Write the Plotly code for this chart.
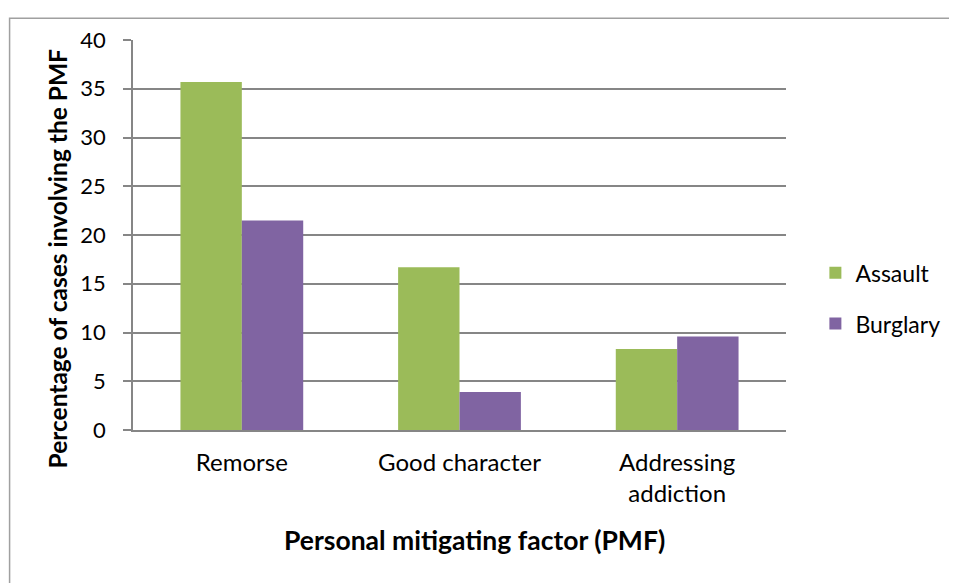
import plotly.graph_objects as go

categories = ["Remorse", "Good character", "Addressing<br>addiction"]
assault = [35.7, 16.7, 8.3]
burglary = [21.5, 3.9, 9.6]
y_ticks = [0, 5, 10, 15, 20, 25, 30, 35, 40]

FONT = "Lato, Open Sans, sans-serif"
GRID = "#868686"

fig = go.Figure()
fig.add_trace(go.Bar(x=categories, y=assault, name="Assault", legendgroup="a",
                     marker=dict(color="#9BBB59", line=dict(width=0))))
fig.add_trace(go.Bar(x=categories, y=burglary, name="Burglary", legendgroup="b",
                     marker=dict(color="#8064A2", line=dict(width=0))))

# page body has an 8px margin, so the figure is sized to fit inside it
fig.update_layout(
    width=949, height=575,
    margin=dict(l=125, r=167, t=32, b=153),
    paper_bgcolor="white", plot_bgcolor="white",
    barmode="group", bargap=0.436, bargroupgap=0,
    font=dict(family=FONT, size=23, color="#000000"),
    showlegend=True,
    legend=dict(x=1.045, y=0.338, xanchor="left", yanchor="middle",
                font=dict(size=23), itemwidth=30, tracegroupgap=18,
                bgcolor="rgba(0,0,0,0)"),
    xaxis=dict(
        showline=True, linecolor=GRID, linewidth=1.5,
        tickfont=dict(size=24), ticks="", showgrid=False,
        ticklabelstandoff=10,
    ),
    yaxis=dict(
        range=[0, 40], tickvals=y_ticks,
        showline=True, linecolor=GRID, linewidth=1.5,
        showgrid=True, gridcolor=GRID, gridwidth=1.5,
        ticks="outside", ticklen=8, tickcolor=GRID, tickwidth=1.5,
        tickfont=dict(size=22), ticklabelstandoff=13, zeroline=False,
    ),
    # axis titles as annotations: Excel centres them on the chart, not the plot
    annotations=[
        dict(text="<b>Personal mitigating factor (PMF)</b>", showarrow=False,
             xref="paper", yref="paper", x=0.5236, y=-0.282,
             xanchor="center", yanchor="middle", font=dict(size=26.5)),
        dict(text="<b>Percentage of cases involving the PMF</b>", showarrow=False,
             xref="paper", yref="paper", x=-0.1157, y=0.441, textangle=-90,
             xanchor="center", yanchor="middle", font=dict(size=24.5)),
    ],
    shapes=[dict(type="rect", xref="paper", yref="paper",
                 x0=-0.189, x1=1.4, y0=-0.6, y1=1.056,
                 line=dict(color="#A0A0A0", width=1.5), layer="below")],
)

fig.write_html("out.html")
